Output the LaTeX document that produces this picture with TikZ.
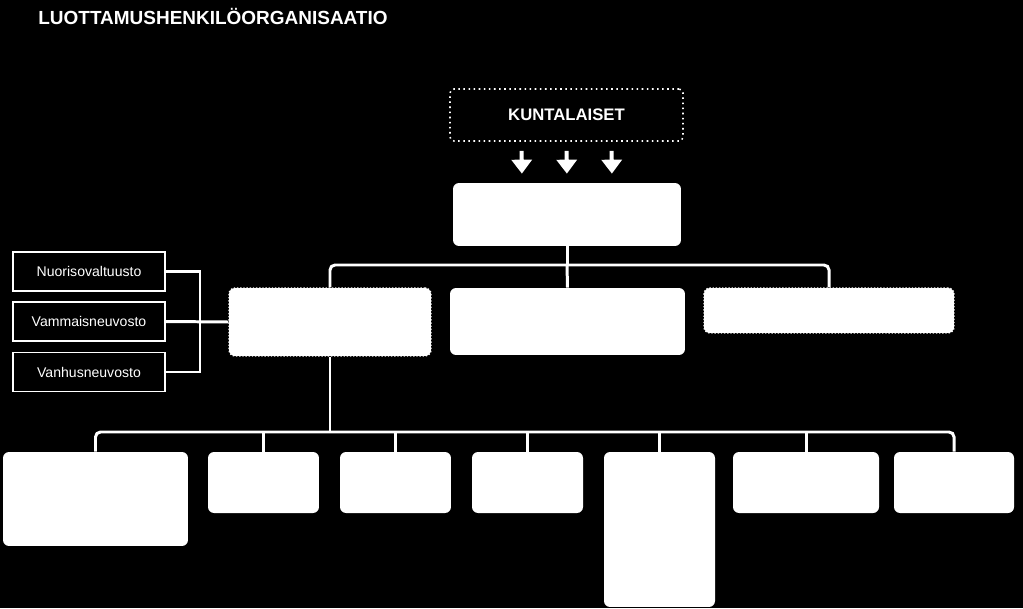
\documentclass[tikz,border=0pt]{standalone}
\usepackage{fontspec}
\setmainfont{Liberation Sans}
\usetikzlibrary{arrows.meta}
\begin{document}
\begin{tikzpicture}[x=0.02cm, y=-0.02cm]
  \fill [black] (0, 0) rectangle (1023, 608);  % Hintergrund.
  \tikzstyle{box}=[fill=white, rounded corners=0.12cm, inner sep=0pt]
  \tikzstyle{dotbox}=[box, draw=white, densely dotted, line width=0.8pt]
  \tikzstyle{small}=[draw=white, line width=0.8pt, inner sep=0pt, text=white,
                     minimum width=3.04cm, minimum height=0.78cm, font=\fontsize{8}{9}\selectfont]
  \tikzstyle{conn}=[draw=white, line width=1.7pt]
  \tikzstyle{arr}=[draw=white, line width=2.3pt, -{Triangle[width=0.4cm, length=0.28cm]}]

  \node[anchor=base west, inner sep=0pt, text=white, font=\fontsize{10.8}{12}\selectfont\bfseries]
    (title) at (38, 25) {LUOTTAMUSHENKILÖORGANISAATIO};

  \node[draw=white, dotted, line width=0.9pt, rounded corners=0.08cm, text=white,
        minimum width=4.66cm, minimum height=1.04cm, font=\fontsize{9.5}{11}\selectfont\bfseries]
    (kunta) at (566.5, 115) {KUNTALAISET};

  \node[box] (valt) at (567, 214.5) [minimum width=4.56cm, minimum height=1.26cm] {};

  \node[dotbox] (hall)  at (330,   322)   [minimum width=4.04cm, minimum height=1.36cm] {};
  \node[box]    (mid)   at (567.5, 321.5) [minimum width=4.70cm, minimum height=1.34cm] {};
  \node[dotbox] (right) at (829,   310.5) [minimum width=5.00cm, minimum height=0.90cm] {};

  \node[small] (nuori)  at (89, 271.5) {Nuorisovaltuusto};
  \node[small] (vamma)  at (89, 321.5) {Vammaisneuvosto};
  \node[small] (vanhus) at (89, 372)   {Vanhusneuvosto};

  \node[box] (b1) at (95.5,  499)   [minimum width=3.70cm, minimum height=1.88cm] {};
  \node[box] (b2) at (263.5, 482.5) [minimum width=2.22cm, minimum height=1.22cm] {};
  \node[box] (b3) at (395.5, 482.5) [minimum width=2.22cm, minimum height=1.22cm] {};
  \node[box] (b4) at (527.5, 482.5) [minimum width=2.22cm, minimum height=1.22cm] {};
  \node[box] (b5) at (659.5, 529.5) [minimum width=2.22cm, minimum height=3.10cm] {};
  \node[box] (b6) at (806,   482.5) [minimum width=2.92cm, minimum height=1.22cm] {};
  \node[box] (b7) at (954,   482.5) [minimum width=2.40cm, minimum height=1.22cm] {};

  \coordinate (bus1) at (567, 265);
  \coordinate (bus2) at (330, 432);
  \coordinate (brk)  at (200, 321.5);

  \foreach \dx in {-45, 0, 45}
    \draw[arr, shorten <=0.18cm, shorten >=0.18cm]
      ([xshift=\dx*0.02cm]kunta.south) -- ([xshift=\dx*0.02cm]valt.north);

  \path[conn] (valt.south) -- (bus1);
  \path[conn] (bus1) -- (mid.north);
  \path[conn, rounded corners=0.1cm] (hall.north) |- (bus1) -| (right.north);

  \path[conn] (hall.south) -- (bus2);
  \path[conn, rounded corners=0.1cm] (b1.north) |- (bus2) -| (b7.north);
  \foreach \b in {b2, b3, b4, b5, b6}
    \path[conn] (\b.north) -- (\b.north |- bus2);

  \path[conn] (nuori.east) -| (brk) |- (vanhus.east);
  \path[conn] (vamma.east) -- (hall.west);
\end{tikzpicture}
\end{document}
